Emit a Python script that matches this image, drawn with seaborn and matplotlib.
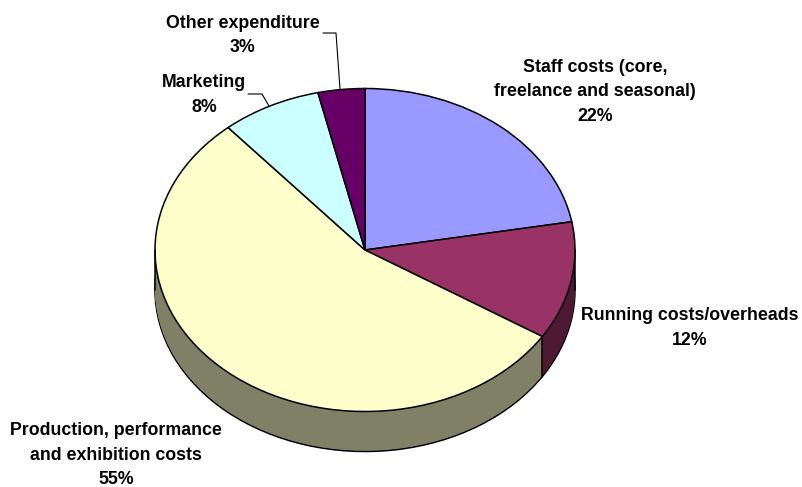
import matplotlib.pyplot as plt
import numpy as np
import seaborn as sns

categories = ['Staff costs (core,\nfreelance and seasonal)', 'Running costs/overheads',
              'Production, performance\nand exhibition costs', 'Marketing', 'Other expenditure']
shares = [22.2, 11.8, 54.7, 7.7, 3.6]
percent_labels = ['22%', '12%', '55%', '8%', '3%']
top_colors = ['#9999FF', '#993366', '#FFFFCC', '#CCFFFF', '#660066']
side_colors = ['#4D4D80', '#4D1933', '#808066', '#668080', '#330033']

# centre of each label and pie geometry, in image pixels
label_pos = [(595, 92), (690, 328), (116, 455), (204, 95), (243, 35.5)]
cx, cy, rx, ry, depth_px = 365, 250, 210, 161.5, 40
W, H = 802, 487


def to_x(px):
    return (px - cx) / rx


def to_y(py):
    return (cy - py) / ry


sns.set_theme(style='white')
plt.rcParams['font.family'] = ['Liberation Sans', 'DejaVu Sans']

figure = plt.figure(figsize=(W / 100, H / 100), dpi=100)
axis = figure.add_axes([0, 0, 1, 1])
depth = depth_px / ry

# side of the pie: stack of dark copies going up to the top face
axis.pie(shares, colors=side_colors, startangle=90, counterclock=False, center=(0, -depth),
         wedgeprops={'edgecolor': 'black', 'linewidth': 1.1})
for off in np.linspace(depth, 0, 41)[1:]:
    axis.pie(shares, colors=side_colors, startangle=90, counterclock=False, center=(0, -off),
             wedgeprops={'edgecolor': 'none', 'linewidth': 0})

# visible vertical edges of the side
boundary = np.radians(90 - 360 * (shares[0] + shares[1]) / 100)
bx, by = np.cos(boundary), np.sin(boundary)
axis.plot([bx, bx], [by, by - depth], color='black', lw=1.1)
axis.plot([-1, -1], [0, -depth], color='black', lw=1.1)
axis.plot([1, 1], [0, -depth], color='black', lw=1.1)

axis.pie(shares, colors=top_colors, startangle=90, counterclock=False,
         wedgeprops={'edgecolor': 'black', 'linewidth': 1.1})

axis.set_aspect('auto')
axis.set_xlim(to_x(0), to_x(W))
axis.set_ylim(to_y(H), to_y(0))

# leader lines
axis.plot([to_x(323), to_x(336), to_x(340)], [to_y(33), to_y(33), to_y(89)], color='black', lw=0.8)
axis.plot([to_x(248), to_x(262), to_x(269)], [to_y(94), to_y(94), to_y(106)], color='black', lw=0.8)

for name, pct, (px, py) in zip(categories, percent_labels, label_pos):
    axis.text(to_x(px), to_y(py), f'{name}\n{pct}', ha='center', va='center',
              fontsize=12.8, fontweight='bold', color='black', linespacing=1.54)

figure.savefig('out.png', dpi=100)
